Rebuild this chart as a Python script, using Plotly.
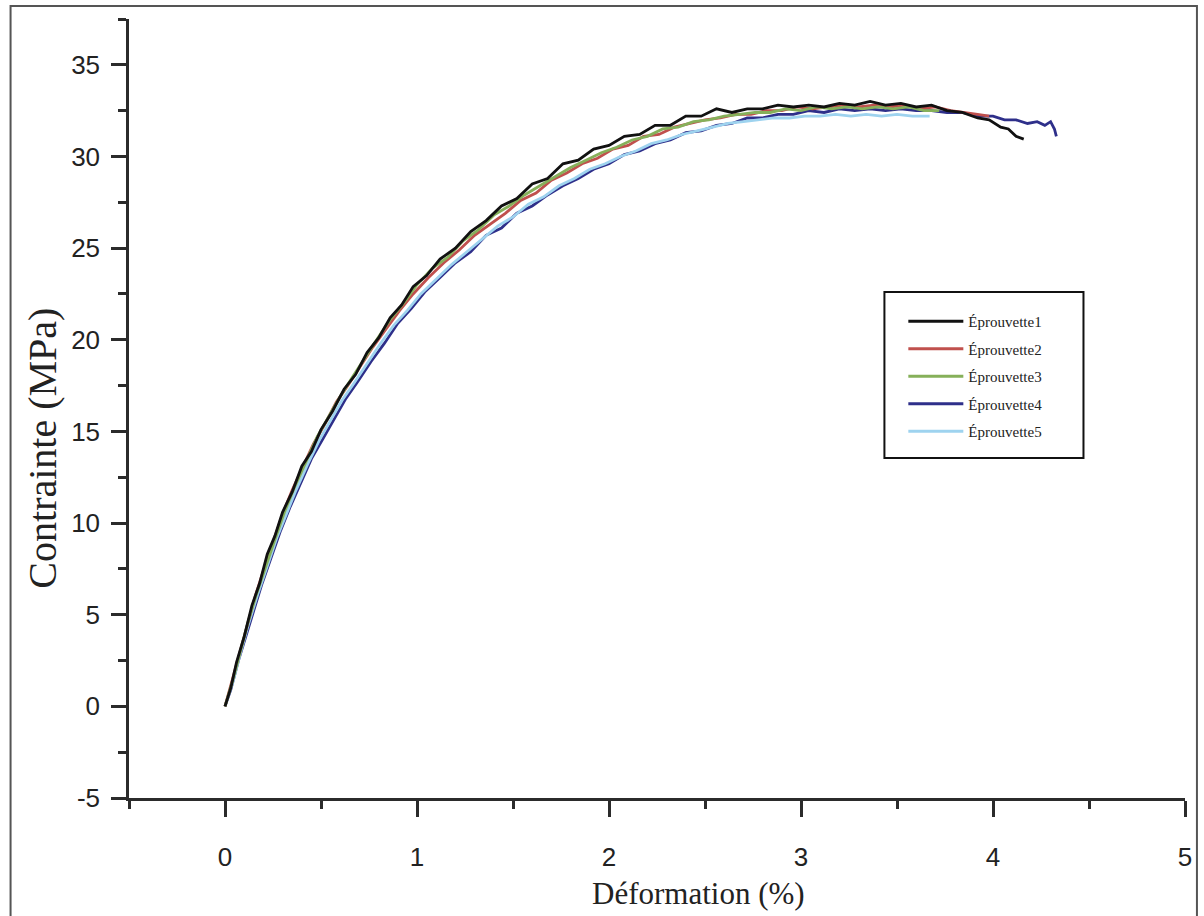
import plotly.graph_objects as go

# ---------------- data ----------------
series_names = ["Éprouvette1", "Éprouvette2", "Éprouvette3", "Éprouvette4", "Éprouvette5"]
series_colors = ["#111111", "#c0504d", "#86b05a", "#2e2f8a", "#9ed3ef"]

strain1 = [0.00, 0.03, 0.06, 0.10, 0.14, 0.18, 0.22, 0.26, 0.30, 0.35, 0.40, 0.45, 0.50, 0.56,
           0.62, 0.68, 0.74, 0.80, 0.86, 0.92, 0.98, 1.05, 1.12, 1.20, 1.28, 1.36, 1.44, 1.52,
           1.60, 1.68, 1.76, 1.84, 1.92, 2.00, 2.08, 2.16, 2.24, 2.32, 2.40, 2.48, 2.56, 2.64,
           2.72, 2.80, 2.88, 2.96, 3.04, 3.12, 3.20, 3.28, 3.36, 3.44, 3.52, 3.60, 3.68, 3.76,
           3.84, 3.92, 3.98, 4.04, 4.08, 4.12, 4.16]
stress1 = [0.0, 1.0, 2.4, 3.8, 5.5, 6.7, 8.3, 9.3, 10.6, 11.7, 13.1, 13.9, 15.1, 16.1,
           17.3, 18.1, 19.3, 20.1, 21.2, 21.9, 22.9, 23.5, 24.4, 25.0, 25.9, 26.5, 27.3, 27.7,
           28.5, 28.8, 29.6, 29.8, 30.4, 30.6, 31.1, 31.2, 31.7, 31.7, 32.2, 32.2, 32.6, 32.4,
           32.6, 32.6, 32.8, 32.7, 32.8, 32.7, 32.9, 32.8, 33.0, 32.8, 32.9, 32.7, 32.8, 32.5,
           32.4, 32.1, 32.0, 31.6, 31.5, 31.1, 30.95]

strain2 = [0.00, 0.04, 0.08, 0.12, 0.16, 0.20, 0.25, 0.30, 0.35, 0.40, 0.46, 0.52, 0.58, 0.64,
           0.70, 0.77, 0.84, 0.91, 0.98, 1.06, 1.14, 1.22, 1.30, 1.38, 1.46, 1.54, 1.62, 1.70,
           1.78, 1.86, 1.94, 2.02, 2.10, 2.18, 2.26, 2.34, 2.42, 2.50, 2.58, 2.66, 2.74, 2.82,
           2.90, 2.98, 3.06, 3.14, 3.22, 3.30, 3.38, 3.46, 3.54, 3.62, 3.70, 3.78, 3.86, 3.92, 3.98]
stress2 = [0.0, 1.5, 3.1, 4.6, 6.1, 7.4, 9.0, 10.5, 11.8, 12.9, 14.3, 15.4, 16.6, 17.5,
           18.5, 19.6, 20.6, 21.6, 22.5, 23.4, 24.2, 24.9, 25.7, 26.3, 26.9, 27.6, 28.0, 28.7,
           29.1, 29.6, 29.9, 30.4, 30.6, 31.1, 31.2, 31.6, 31.8, 32.0, 32.1, 32.3, 32.3, 32.5,
           32.5, 32.7, 32.6, 32.7, 32.8, 32.7, 32.8, 32.7, 32.8, 32.6, 32.7, 32.5, 32.4, 32.3, 32.2]

strain3 = [0.00, 0.04, 0.08, 0.12, 0.16, 0.21, 0.26, 0.31, 0.36, 0.42, 0.48, 0.54, 0.60, 0.66,
           0.72, 0.79, 0.86, 0.93, 1.00, 1.08, 1.16, 1.24, 1.32, 1.40, 1.48, 1.56, 1.64, 1.72,
           1.80, 1.88, 1.96, 2.04, 2.12, 2.20, 2.28, 2.36, 2.44, 2.52, 2.60, 2.68, 2.76, 2.84,
           2.92, 3.00, 3.08, 3.16, 3.24, 3.32, 3.40, 3.48, 3.56, 3.64, 3.72]
stress3 = [0.0, 1.4, 3.0, 4.6, 6.0, 7.6, 9.1, 10.6, 11.9, 13.3, 14.7, 15.8, 16.9, 17.9,
           18.9, 20.0, 21.1, 22.0, 23.0, 23.9, 24.5, 25.4, 26.0, 26.8, 27.3, 27.9, 28.4, 28.9,
           29.4, 29.8, 30.2, 30.5, 30.9, 31.1, 31.5, 31.6, 31.9, 32.0, 32.2, 32.3, 32.4, 32.4,
           32.6, 32.5, 32.7, 32.6, 32.7, 32.6, 32.7, 32.6, 32.7, 32.5, 32.5]

strain4 = [0.00, 0.03, 0.07, 0.11, 0.15, 0.19, 0.24, 0.29, 0.34, 0.39, 0.45, 0.51, 0.57, 0.63,
           0.69, 0.76, 0.83, 0.90, 0.97, 1.04, 1.12, 1.20, 1.28, 1.36, 1.44, 1.52, 1.60, 1.68,
           1.76, 1.84, 1.92, 2.00, 2.08, 2.16, 2.24, 2.32, 2.40, 2.48, 2.56, 2.64, 2.72, 2.80,
           2.88, 2.96, 3.04, 3.12, 3.20, 3.28, 3.36, 3.44, 3.52, 3.60, 3.68, 3.76, 3.84, 3.92,
           4.00, 4.06, 4.12, 4.18, 4.23, 4.27, 4.30, 4.32, 4.33]
stress4 = [0.0, 0.9, 2.5, 3.9, 5.3, 6.6, 8.1, 9.6, 10.9, 12.1, 13.5, 14.6, 15.7, 16.8,
           17.7, 18.8, 19.8, 20.9, 21.7, 22.6, 23.4, 24.2, 24.8, 25.7, 26.1, 26.9, 27.3, 27.9,
           28.4, 28.8, 29.3, 29.6, 30.1, 30.3, 30.7, 30.9, 31.3, 31.4, 31.7, 31.8, 32.1, 32.1,
           32.3, 32.3, 32.5, 32.4, 32.6, 32.5, 32.6, 32.5, 32.6, 32.5, 32.5, 32.4, 32.4, 32.2,
           32.2, 32.0, 32.0, 31.8, 31.9, 31.7, 31.9, 31.5, 31.1]

strain5 = [0.00, 0.04, 0.08, 0.12, 0.17, 0.22, 0.27, 0.32, 0.37, 0.43, 0.49, 0.55, 0.61, 0.67,
           0.74, 0.81, 0.88, 0.95, 1.02, 1.10, 1.18, 1.26, 1.34, 1.42, 1.50, 1.58, 1.66, 1.74,
           1.82, 1.90, 1.98, 2.06, 2.14, 2.22, 2.30, 2.38, 2.46, 2.54, 2.62, 2.70, 2.78, 2.86,
           2.94, 3.02, 3.10, 3.18, 3.26, 3.34, 3.42, 3.50, 3.58, 3.67]
stress5 = [0.0, 1.3, 2.9, 4.4, 6.1, 7.7, 9.2, 10.5, 11.8, 13.2, 14.5, 15.6, 16.7, 17.6,
           18.7, 19.8, 20.8, 21.6, 22.5, 23.3, 24.1, 24.8, 25.5, 26.2, 26.7, 27.4, 27.8, 28.4,
           28.8, 29.3, 29.6, 30.0, 30.3, 30.7, 30.9, 31.2, 31.4, 31.6, 31.8, 31.9, 32.0, 32.1,
           32.1, 32.2, 32.2, 32.3, 32.2, 32.3, 32.2, 32.3, 32.2, 32.2]

x_ticks = [0, 1, 2, 3, 4, 5]
y_ticks = [-5, 0, 5, 10, 15, 20, 25, 30, 35]

strains = [strain1, strain2, strain3, strain4, strain5]
stresses = [stress1, stress2, stress3, stress4, stress5]

# ---------------- figure ----------------
fig = go.Figure()
draw_order = [3, 4, 1, 2, 0]
for i in draw_order:
    fig.add_trace(go.Scatter(
        x=strains[i], y=stresses[i], mode="lines",
        name=series_names[i], legendgroup=series_names[i], legendrank=i + 1,
        line=dict(color=series_colors[i], width=2.8),
    ))

axis_color = "#2b2b2b"
tick_font = dict(family="Liberation Sans, Arial, sans-serif", size=26, color="#222222")

fig.update_xaxes(
    range=[-0.5, 5], tickvals=x_ticks, ticktext=[str(v) for v in x_ticks],
    showgrid=False, zeroline=False, showline=True, linecolor=axis_color, linewidth=2.5,
    ticks="outside", ticklen=16, tickwidth=2.5, tickcolor=axis_color,
    tickfont=tick_font, ticklabelstandoff=18,
    minor=dict(tickvals=[-0.5, 0.5, 1.5, 2.5, 3.5, 4.5], ticks="outside", ticklen=8,
               tickwidth=2.5, tickcolor=axis_color),
)
fig.update_yaxes(
    range=[-5, 37.5], tickvals=y_ticks, ticktext=[str(v) for v in y_ticks],
    showgrid=False, zeroline=False, showline=True, linecolor=axis_color, linewidth=2.5,
    ticks="outside", ticklen=15, tickwidth=2.5, tickcolor=axis_color,
    tickfont=tick_font, ticklabelstandoff=6,
    minor=dict(tickvals=[-2.5, 2.5, 7.5, 12.5, 17.5, 22.5, 27.5, 32.5, 37.5], ticks="outside",
               ticklen=8, tickwidth=2.5, tickcolor=axis_color),
)

serif = "Liberation Serif, Times New Roman, serif"
fig.add_annotation(text="Déformation (%)", xref="paper", yref="paper", x=0.539, y=-0.122,
                   xanchor="center", yanchor="middle", showarrow=False,
                   font=dict(family=serif, size=31, color="#222222"))
fig.add_annotation(text="Contrainte (MPa)", xref="paper", yref="paper", x=-0.082, y=0.449,
                   xanchor="center", yanchor="middle", textangle=-90, showarrow=False,
                   font=dict(family=serif, size=40, color="#222222"))

# legend frame and outer page frame
fig.add_shape(type="rect", xref="paper", yref="paper",
              x0=(888 - 129) / 1061, x1=(1088 - 129) / 1061,
              y0=(798 - 458) / 779, y1=(798 - 292) / 779,
              line=dict(color="#111111", width=2), fillcolor="white", layer="below")
fig.add_shape(type="rect", xref="paper", yref="paper",
              x0=(10 - 129) / 1061, x1=(1202 - 129) / 1061,
              y0=(798 - 920) / 779, y1=(798 - 6) / 779,
              line=dict(color="#555555", width=2), layer="below")

fig.update_layout(
    width=1204, height=916,
    margin=dict(l=129, r=14, t=19, b=118),
    plot_bgcolor="white", paper_bgcolor="white",
    showlegend=True,
    legend=dict(x=(907 - 129) / 1061, y=(798 - 305) / 779, xanchor="left", yanchor="top",
                bgcolor="rgba(0,0,0,0)", borderwidth=0, traceorder="grouped",
                tracegroupgap=5, itemwidth=55,
                font=dict(family=serif, size=15, color="#222222")),
)

fig.write_html("out.html")
